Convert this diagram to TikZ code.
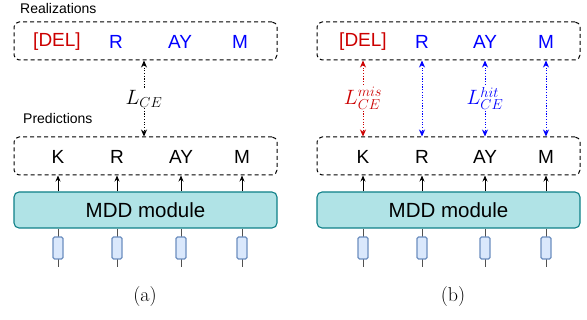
\documentclass[tikz,border=0pt]{standalone}
\usepackage{fontspec}
\newfontfamily\hv{Liberation Sans}
\usetikzlibrary{arrows.meta}
\definecolor{delred}{RGB}{204,0,0}
\definecolor{tokblue}{RGB}{0,0,255}
\definecolor{mddfill}{HTML}{B0E3E6}
\definecolor{mdddraw}{HTML}{0E8088}
\definecolor{infill}{HTML}{DAE8FC}
\definecolor{indraw}{HTML}{6C8EBF}
\definecolor{wire}{RGB}{80,80,80}
\tikzset{
  dbox/.style={draw=black, dash pattern=on 4pt off 3pt, line width=1pt, rounded corners=5pt, minimum width=263pt, minimum height=38pt, inner sep=0pt},
  mdd/.style={draw=mdddraw, fill=mddfill, line width=1.1pt, rounded corners=5pt, minimum width=263pt, minimum height=36pt, inner sep=0pt, font=\hv\fontsize{20.5}{24}\selectfont},
  tok/.style={inner sep=0pt, font=\hv\fontsize{19}{22}\selectfont},
  title/.style={inner sep=0pt, anchor=west, font=\hv\fontsize{14}{17}\selectfont},
  inrect/.style={draw=indraw, fill=infill, line width=1.1pt, rounded corners=1.5pt, minimum width=10pt, minimum height=22pt, inner sep=0pt},
  wireline/.style={draw=wire, line width=0.8pt},
  uparrow/.style={draw=black, line width=0.8pt, -{Stealth[length=6pt,width=5pt]}},
  lossarrow/.style={line width=0.9pt, dash pattern=on 1.2pt off 1.5pt, {Stealth[length=7pt,width=6pt]}-{Stealth[length=7pt,width=6pt]}},
  losslabel/.style={fill=white, inner sep=1pt, font=\fontsize{22}{26}\selectfont},
  captext/.style={inner sep=0pt, font=\fontsize{20}{24}\selectfont}
}
\begin{document}
\begin{tikzpicture}[x=1pt,y=-1pt]
\useasboundingbox (0,0) rectangle (587,320);
% ---------- panel (a) ----------
\node[title] (realtA) at (20,8) {Realizations};
\node[dbox] (realA) at (145.5,41) {};
\node[tok, text=delred] (aDEL) at (57,42) {[DEL]};
\node[tok, text=tokblue] (aR) at (116,42) {R};
\node[tok, text=tokblue] (aAY) at (180,42) {AY};
\node[tok, text=tokblue] (aM) at (240,42) {M};
\node[title] (predtA) at (23,118) {Predictions};
\node[dbox] (predA) at (145.5,156) {};
\node[tok] (aK) at (58,157) {K};
\node[tok] (aR2) at (117,157) {R};
\node[tok] (aAY2) at (181,157) {AY};
\node[tok] (aM2) at (242,157) {M};
\draw[lossarrow, draw=black] (realA.south -| 144,0) -- node[losslabel, text=black] (lceA) {$L_{CE}$} (predA.north -| 144,0);
\node[mdd] (mddA) at (145.5,210) {MDD module};
\foreach \i/\x in {1/58,2/117,3/181,4/242}{
  \draw[uparrow] (mddA.north -| \x,0) -- (predA.south -| \x,0);
  \coordinate (aw\i) at (\x,267);
  \draw[wireline] (mddA.south -| \x,0) -- (aw\i);
  \node[inrect] (ain\i) at (\x,248) {};
}
\node[captext] (capA) at (145,297) {(a)};
% ---------- panel (b) ----------
\node[dbox] (realB) at (448.5,41) {};
\node[tok, text=delred] (bDEL) at (363,42) {[DEL]};
\node[tok, text=tokblue] (bR) at (422,42) {R};
\node[tok, text=tokblue] (bAY) at (485,42) {AY};
\node[tok, text=tokblue] (bM) at (546,42) {M};
\node[dbox] (predB) at (448.5,156) {};
\node[tok] (bK) at (363,157) {K};
\node[tok] (bR2) at (422,157) {R};
\node[tok] (bAY2) at (485,157) {AY};
\node[tok] (bM2) at (546,157) {M};
\draw[lossarrow, draw=delred] (realB.south -| bDEL) -- node[losslabel, text=delred] (lmis) {$L_{CE}^{mis}$} (predB.north -| bDEL);
\draw[lossarrow, draw=tokblue] (realB.south -| bR) -- (predB.north -| bR);
\draw[lossarrow, draw=tokblue] (realB.south -| bAY) -- node[losslabel, text=tokblue] (lhit) {$L_{CE}^{hit}$} (predB.north -| bAY);
\draw[lossarrow, draw=tokblue] (realB.south -| bM) -- (predB.north -| bM);
\node[mdd] (mddB) at (448.5,210) {MDD module};
\foreach \i/\x in {1/363,2/422,3/485,4/546}{
  \draw[uparrow] (mddB.north -| \x,0) -- (predB.south -| \x,0);
  \coordinate (bw\i) at (\x,267);
  \draw[wireline] (mddB.south -| \x,0) -- (bw\i);
  \node[inrect] (bin\i) at (\x,248) {};
}
\node[captext] (capB) at (453,297) {(b)};
\end{tikzpicture}
\end{document}
